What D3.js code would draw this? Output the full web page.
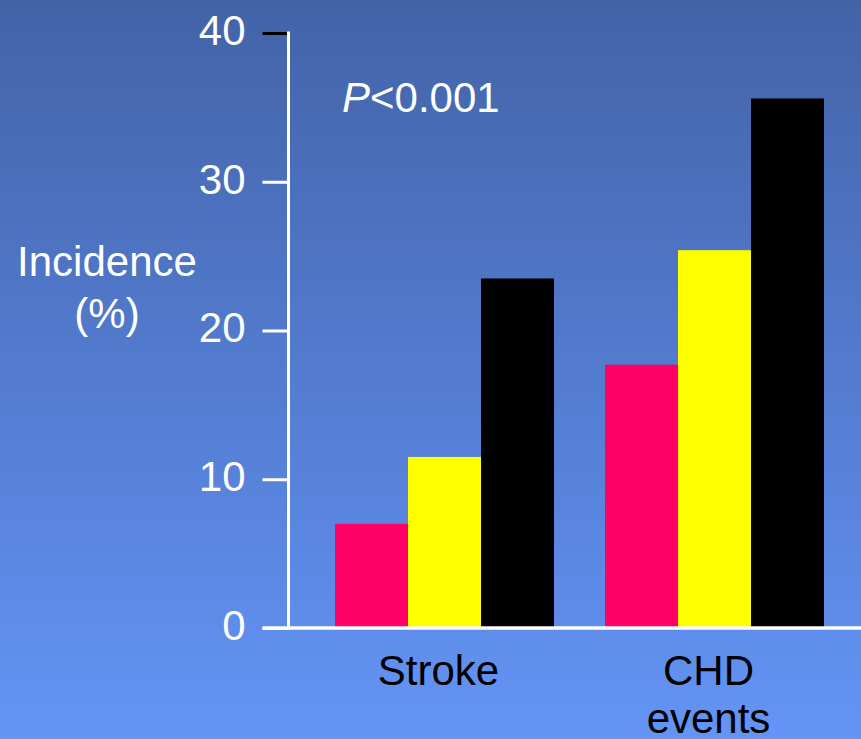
<!DOCTYPE html>
<html>
<head>
<meta charset="utf-8">
<script src="https://cdn.jsdelivr.net/npm/d3@7"></script>
<style>
  html, body { margin: 0; padding: 0; background: #5580d8; }
  svg { display: block; }
  text { font-family: "Liberation Sans", Arial, sans-serif; }
</style>
</head>
<body>
<svg id="chart" width="861" height="739"></svg>
<script>
// Outcome categories (second one is wrapped over two lines)
const categories = ["Stroke", "CHD events"];
const categoryLines = [["Stroke"], ["CHD", "events"]];
// Three groups per outcome, drawn pink / yellow / black
const groups = ["g1", "g2", "g3"];
const groupColors = ["#FF0066", "#FFFF00", "#000000"];
// Incidence (%) per group
const strokeValues = [7.0, 11.5, 23.5];
const chdValues = [17.7, 25.4, 35.6];
const seriesValues = [strokeValues, chdValues];
// Y axis ticks
const yTicks = [0, 10, 20, 30, 40];
const yTitle = ["Incidence", "(%)"];
const annotation = { italic: "P", rest: "<0.001" };

const W = 861, H = 739;
const FS = 42;
const svg = d3.select("#chart");

// Background gradient, darker at the top
const defs = svg.append("defs");
const grad = defs.append("linearGradient")
  .attr("id", "bg").attr("x1", 0).attr("y1", 0).attr("x2", 0).attr("y2", 1);
grad.append("stop").attr("offset", "0%").attr("stop-color", "#4263A8");
grad.append("stop").attr("offset", "100%").attr("stop-color", "#6494F6");
svg.append("rect").attr("width", W).attr("height", H).attr("fill", "url(#bg)");

const axisX = 288.5;
const y = d3.scaleLinear().domain([0, 40]).range([628, 33]);

const x0 = d3.scaleBand().domain(categories).range([335, 824])
  .paddingInner(0.1889).paddingOuter(0);
const x1 = d3.scaleBand().domain(groups).range([0, x0.bandwidth()]).padding(0);

// Bars
const data = categories.map((c, i) => ({ cat: c, values: seriesValues[i] }));
const gCat = svg.append("g").selectAll("g").data(data).join("g")
  .attr("transform", d => `translate(${x0(d.cat)},0)`);
gCat.selectAll("rect")
  .data(d => d.values.map((v, j) => ({ key: groups[j], v, color: groupColors[j] })))
  .join("rect")
  .attr("x", d => x1(d.key))
  .attr("width", x1.bandwidth())
  .attr("y", d => y(d.v))
  .attr("height", d => y(0) - y(d.v))
  .attr("fill", d => d.color);

// Y axis: vertical line, ticks and labels
const yAxis = d3.axisLeft(y).tickValues(yTicks).tickSize(26).tickPadding(17)
  .tickFormat(d3.format("d"));
const ax = svg.append("g").attr("transform", `translate(${axisX},0)`).call(yAxis);
ax.select(".domain").remove();
ax.selectAll(".tick line")
  .attr("stroke", d => d === 40 ? "#000" : "#fff")
  .attr("stroke-width", 3);
ax.selectAll(".tick text")
  .attr("fill", "#fff")
  .attr("font-size", FS)
  .attr("font-family", "'Liberation Sans', Arial, sans-serif")
  .attr("dy", "0.27em");

svg.append("line")
  .attr("x1", axisX).attr("x2", axisX)
  .attr("y1", y(40) - 1.5).attr("y2", y(0))
  .attr("stroke", "#fff").attr("stroke-width", 3);

// Baseline across the plot
svg.append("line")
  .attr("x1", axisX - 26).attr("x2", W)
  .attr("y1", y(0)).attr("y2", y(0))
  .attr("stroke", "#fff").attr("stroke-width", 3.5);

// Y axis title
svg.append("text")
  .attr("x", 107).attr("y", 276)
  .attr("text-anchor", "middle").attr("fill", "#fff").attr("font-size", FS)
  .selectAll("tspan").data(yTitle).join("tspan")
  .attr("x", 107).attr("dy", (d, i) => i === 0 ? 0 : 52)
  .text(d => d);

// Significance annotation
const ann = svg.append("text")
  .attr("x", 342).attr("y", 112)
  .attr("fill", "#fff").attr("font-size", FS);
ann.append("tspan").attr("font-style", "italic").text(annotation.italic);
ann.append("tspan").text(annotation.rest);

// Category labels
categories.forEach((c, i) => {
  const cx = x0(c) + x0.bandwidth() / 2 - 6;
  svg.append("text")
    .attr("text-anchor", "middle").attr("fill", "#000").attr("font-size", FS)
    .attr("y", 685)
    .selectAll("tspan").data(categoryLines[i]).join("tspan")
    .attr("x", cx).attr("dy", (d, k) => k === 0 ? 0 : 48)
    .text(d => d);
});
</script>
</body>
</html>
